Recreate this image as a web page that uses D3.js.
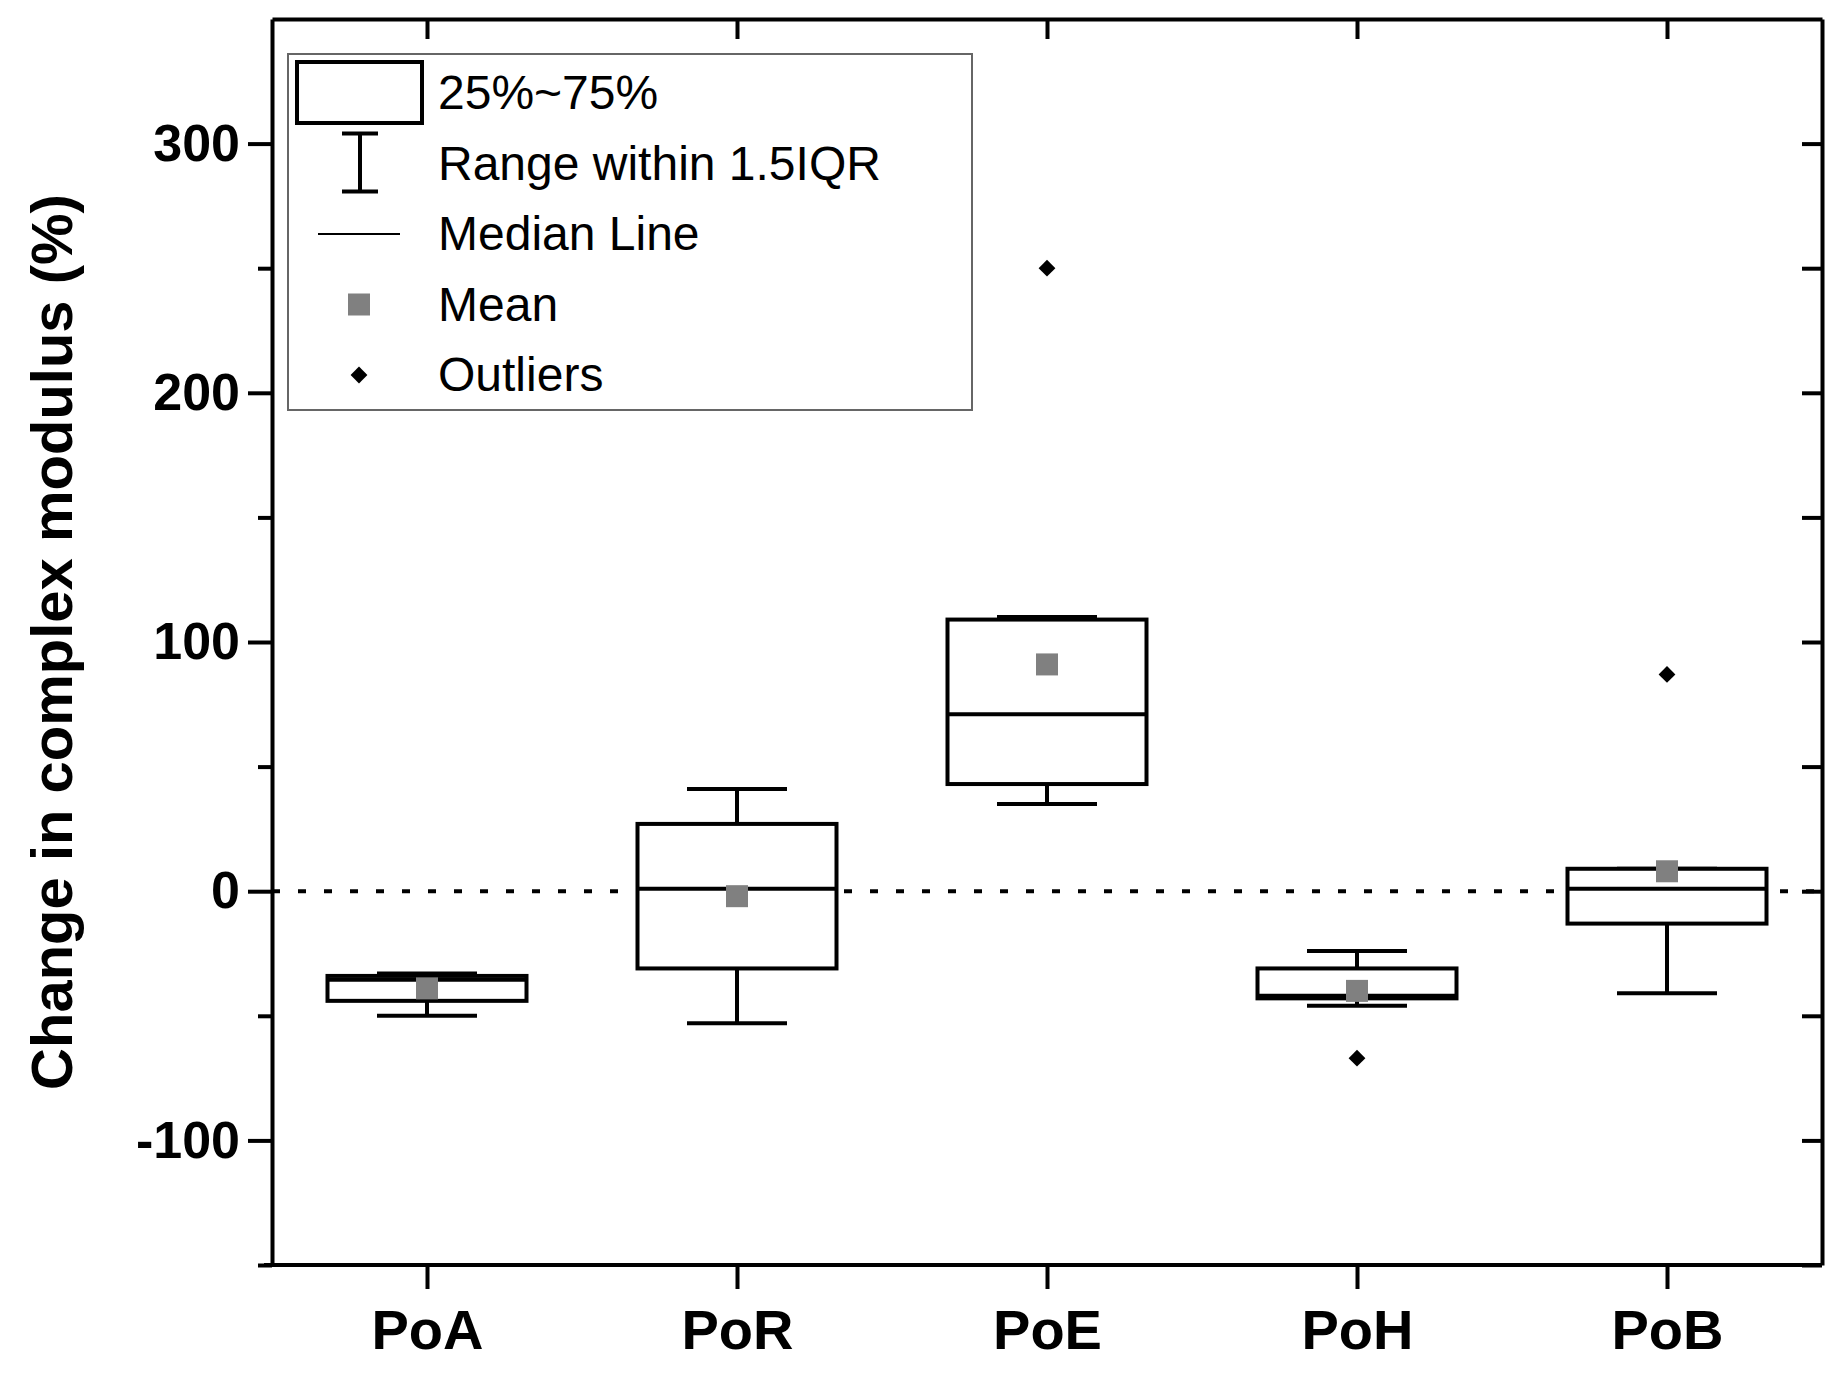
<!DOCTYPE html>
<html><head><meta charset="utf-8">
<script src="https://cdn.jsdelivr.net/npm/d3@7"></script>
<style>body{margin:0;background:#fff}</style></head>
<body><svg id="chart" width="1836" height="1378"></svg>
<script>
var categories = ['PoA', 'PoR', 'PoE', 'PoH', 'PoB'];
var q1 = [-44, -31, 43, -43, -13];
var median = [-35.5, 1, 71, -42, 1];
var q3 = [-34, 27, 109, -31, 9];
var whiskLo = [-50, -53, 35, -46, -41];
var whiskHi = [-33, 41, 110, -24, 9];
var means = [-39, -2, 91, -40, 8];
var outliers = [[], [], [250], [-67], [87]];
var yMajor = [-100, 0, 100, 200, 300];
var yMinor = [-150, -50, 50, 150, 250];

var svg = d3.select('#chart');
var m = {left: 272, right: 1822, top: 19, bottom: 1265};
var x = d3.scalePoint().domain(categories).range([m.left, m.right]).padding(0.5);
var y = d3.scaleLinear().domain([-150, 350]).range([m.bottom, m.top]);
var boxW = 199, capW = 100;

// zero reference line
svg.append('line').attr('x1', m.left).attr('x2', m.right)
  .attr('y1', y(0)).attr('y2', y(0))
  .attr('stroke', '#000').attr('stroke-width', 4).attr('stroke-dasharray', '8,18');

var g = svg.selectAll('.box').data(categories).enter().append('g');
g.append('line').attr('x1', function(d){return x(d);}).attr('x2', function(d){return x(d);})
  .attr('y1', function(d,i){return y(whiskLo[i]);}).attr('y2', function(d,i){return y(whiskHi[i]);})
  .attr('stroke', '#000').attr('stroke-width', 4);
[whiskLo, whiskHi].forEach(function(arr){
  g.append('line').attr('x1', function(d){return x(d)-capW/2;}).attr('x2', function(d){return x(d)+capW/2;})
    .attr('y1', function(d,i){return y(arr[i]);}).attr('y2', function(d,i){return y(arr[i]);})
    .attr('stroke', '#000').attr('stroke-width', 4);
});
g.append('rect').attr('x', function(d){return x(d)-boxW/2;}).attr('width', boxW)
  .attr('y', function(d,i){return y(q3[i]);}).attr('height', function(d,i){return y(q1[i])-y(q3[i]);})
  .attr('fill', '#fff').attr('stroke', '#000').attr('stroke-width', 4);
g.append('line').attr('x1', function(d){return x(d)-boxW/2;}).attr('x2', function(d){return x(d)+boxW/2;})
  .attr('y1', function(d,i){return y(median[i]);}).attr('y2', function(d,i){return y(median[i]);})
  .attr('stroke', '#000').attr('stroke-width', 4);
g.append('rect').attr('x', function(d){return x(d)-11;}).attr('y', function(d,i){return y(means[i])-11;})
  .attr('width', 22).attr('height', 22).attr('fill', '#808080');
categories.forEach(function(c, i){
  outliers[i].forEach(function(v){
    svg.append('path').attr('d', d3.symbol(d3.symbolDiamond2, 180)())
      .attr('transform', 'translate(' + x(c) + ',' + y(v) + ')').attr('fill', '#000');
  });
});

// axes
var font = 'Arial, "Liberation Sans", sans-serif';
function styleAxis(sel){ sel.select('.domain').attr('stroke-width', 4); sel.selectAll('line').attr('stroke-width', 4); }
var leftAx = svg.append('g').attr('transform', 'translate(' + m.left + ',0)')
  .call(d3.axisLeft(y).tickValues(yMajor).tickSize(24).tickSizeOuter(0).tickPadding(8)
    .tickFormat(function(d){return String(d);}));
leftAx.selectAll('text').attr('font-family', font).attr('font-weight', 'bold').attr('font-size', 52).attr('fill', '#000');
styleAxis(leftAx);
var minorAx = svg.append('g').attr('transform', 'translate(' + m.left + ',0)')
  .call(d3.axisLeft(y).tickValues(yMinor).tickSize(14).tickFormat(''));
styleAxis(minorAx);
minorAx.select('.domain').remove();
var rightAx = svg.append('g').attr('transform', 'translate(' + m.right + ',0)')
  .call(d3.axisRight(y).tickValues(yMajor.concat(yMinor)).tickSize(-20).tickSizeOuter(0).tickFormat(''));
styleAxis(rightAx);
var bottomAx = svg.append('g').attr('transform', 'translate(0,' + m.bottom + ')')
  .call(d3.axisBottom(x).tickSize(24).tickSizeOuter(0).tickPadding(20));
bottomAx.selectAll('text').attr('font-family', font).attr('font-weight', 'bold').attr('font-size', 56).attr('fill', '#000');
styleAxis(bottomAx);
bottomAx.select('.domain').attr('d', 'M' + (m.left - 8) + ',0H' + m.right);
var topAx = svg.append('g').attr('transform', 'translate(0,' + m.top + ')')
  .call(d3.axisTop(x).tickSize(-20).tickSizeOuter(0).tickFormat(''));
styleAxis(topAx);

svg.append('text').attr('transform', 'translate(72,' + ((m.top + m.bottom) / 2) + ') rotate(-90)')
  .attr('text-anchor', 'middle').attr('font-family', font).attr('font-weight', 'bold')
  .attr('font-size', 58).text('Change in complex modulus (%)');

// legend
var lg = svg.append('g');
lg.append('rect').attr('x', 288).attr('y', 54).attr('width', 684).attr('height', 356)
  .attr('fill', '#fff').attr('stroke', '#666').attr('stroke-width', 2);
var labels = ['25%~75%', 'Range within 1.5IQR', 'Median Line', 'Mean', 'Outliers'];
var rowY = d3.scalePoint().domain(labels).range([93, 375]);
lg.selectAll('.lt').data(labels).enter().append('text')
  .attr('x', 438).attr('y', function(d){return rowY(d) + 16;})
  .attr('font-family', font).attr('font-size', 48).text(function(d){return d;});
lg.append('rect').attr('x', 297).attr('y', rowY(labels[0]) - 31).attr('width', 125).attr('height', 61)
  .attr('fill', 'none').attr('stroke', '#000').attr('stroke-width', 4);
var ry = rowY(labels[1]);
lg.append('path').attr('d', 'M342,' + (ry-30) + 'h36M360,' + (ry-30) + 'v58M342,' + (ry+28) + 'h36')
  .attr('stroke', '#000').attr('stroke-width', 4).attr('fill', 'none');
lg.append('line').attr('x1', 318).attr('x2', 400).attr('y1', rowY(labels[2])).attr('y2', rowY(labels[2]))
  .attr('stroke', '#000').attr('stroke-width', 2);
lg.append('rect').attr('x', 348).attr('y', rowY(labels[3]) - 11).attr('width', 22).attr('height', 22).attr('fill', '#808080');
lg.append('path').attr('d', d3.symbol(d3.symbolDiamond2, 180)())
  .attr('transform', 'translate(359,' + rowY(labels[4]) + ')').attr('fill', '#000');
</script></body></html>
